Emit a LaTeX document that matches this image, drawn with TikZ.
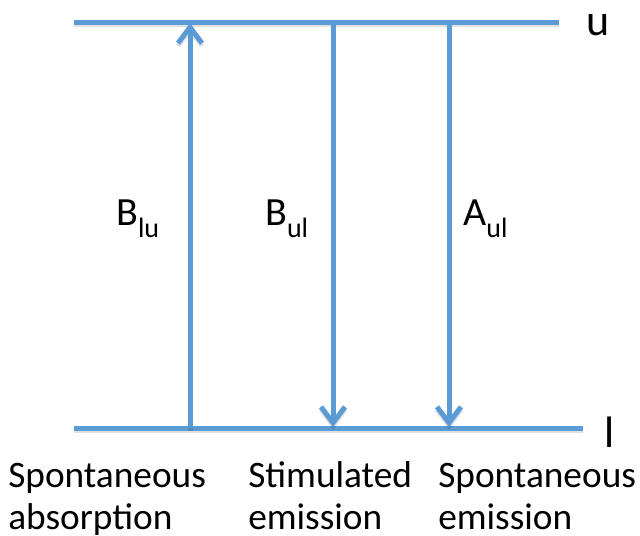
\documentclass[tikz,border=0pt]{standalone}
\usepackage{fontspec}
\setmainfont{Carlito}
\usetikzlibrary{arrows.meta, positioning}
\definecolor{levelblue}{HTML}{5B9BD5}

\begin{document}
\begin{tikzpicture}[x=0.75pt, y=-0.75pt, font=\fontsize{28}{31.5}\selectfont]
    \tikzstyle{shade} = [preaction={draw=black, opacity=0.12, line width=3.75pt, transform canvas={yshift=-2pt}}]
    \tikzstyle{level} = [line width=3.75pt, draw=levelblue, shade]
    \tikzstyle{trans} = [line width=3.75pt, draw=levelblue, shade, -{Straight Barb[length=12pt, width=18pt]}]
    \tikzstyle{rate} = [anchor=base west, inner sep=0pt, font=\fontsize{30}{30}\selectfont]
    \tikzstyle{caption} = [anchor=base west, inner sep=0pt]
    \newcommand{\lowidx}[1]{\raisebox{-9pt}{\fontsize{21}{21}\selectfont #1}}
    \useasboundingbox (0,0) rectangle (640,536);

    % energy levels
    \coordinate (u west) at (74,22);
    \coordinate (u east) at (559,22);
    \coordinate (l west) at (74,428);
    \coordinate (l east) at (583,428);
    \draw [level] (u west) -- (u east);
    \draw [level] (l west) -- (l east);
    \node (ulab) [rate, font=\fontsize{33}{33}\selectfont] at (586,35) {u};
    \node (llab) [rate, font=\fontsize{33}{33}\selectfont] at (604,447) {l};

    % transitions
    \coordinate (abs low) at (190,428);
    \coordinate (abs high) at (190,23);
    \coordinate (stim high) at (333,22);
    \coordinate (stim low) at (333,427);
    \coordinate (spon high) at (449,22);
    \coordinate (spon low) at (449,427);
    \draw [trans] (abs low) -- (abs high);
    \draw [trans] (stim high) -- (stim low);
    \draw [trans] (spon high) -- (spon low);

    \node (blu) [rate] at (116,225) {B\lowidx{lu}};
    \node (bul) [rate] at (265,225) {B\lowidx{ul}};
    \node (aul) [rate] at (463,225) {A\lowidx{ul}};

    % process names
    \node (absorb) [caption] at (8,487) {\begin{tabular}[t]{@{}l@{}}Spontaneous\\absorption\end{tabular}};
    \node (stimem) [caption] at (248,487) {\begin{tabular}[t]{@{}l@{}}Stimulated\\emission\end{tabular}};
    \node (sponem) [caption] at (438,487) {\begin{tabular}[t]{@{}l@{}}Spontaneous\\emission\end{tabular}};
\end{tikzpicture}
\end{document}
